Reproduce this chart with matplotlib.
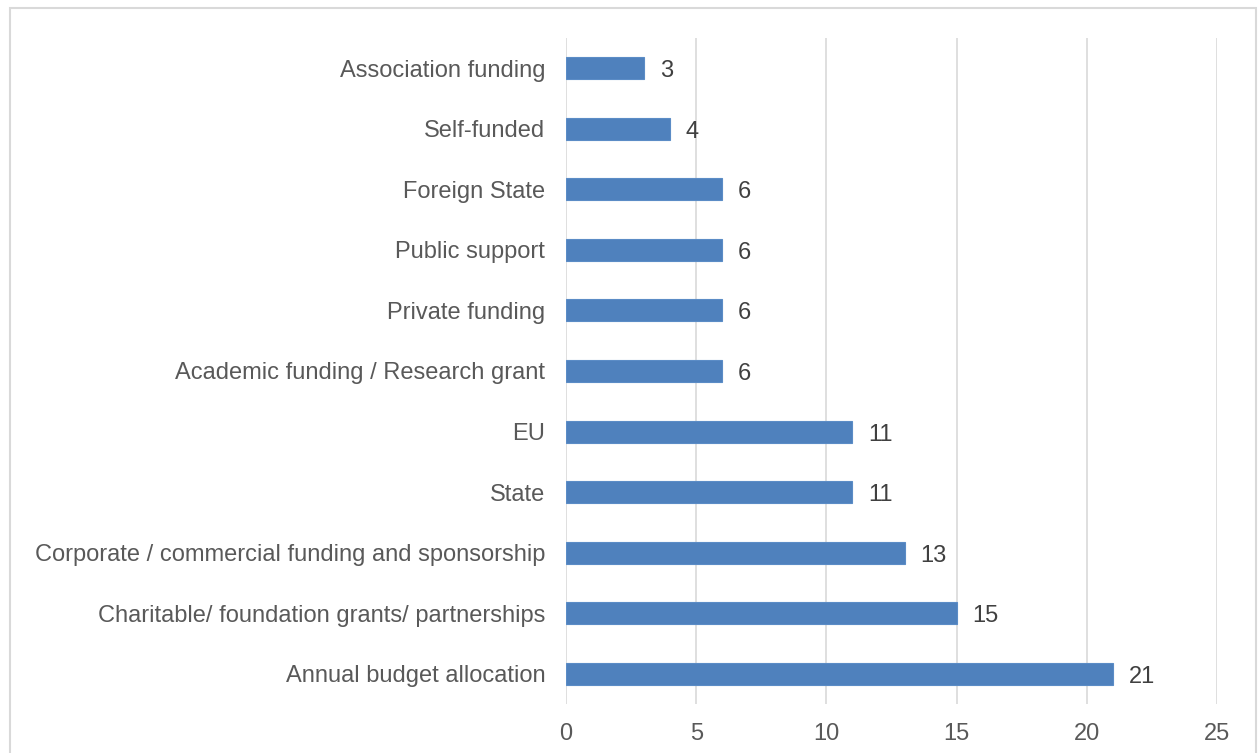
import matplotlib.pyplot as plt
from matplotlib.patches import Rectangle

plt.rcParams['font.family'] = ['Liberation Sans', 'DejaVu Sans']

sources = ["Association funding", "Self-funded", "Foreign State", "Public support",
           "Private funding", "Academic funding / Research grant", "EU", "State",
           "Corporate / commercial funding and sponsorship",
           "Charitable/ foundation grants/ partnerships", "Annual budget allocation"]
counts = [3, 4, 6, 6, 6, 6, 11, 11, 13, 15, 21]

fig = plt.figure(figsize=(12.6, 7.53), dpi=100)
ax = fig.add_axes([566 / 1260, 1 - 704 / 753, (1217 - 566) / 1260, (704 - 38) / 753])

# outer chart frame
fig.patches.append(Rectangle((10 / 1260, -0.05), 1246 / 1260, 1.05 - 8 / 753,
                             transform=fig.transFigure, fill=False,
                             edgecolor="#d9d9d9", linewidth=1.5))

ypos = list(range(len(sources)))
ax.barh(ypos, counts, height=0.364, color="#4f81bd", edgecolor="#5b8cc6",
        linewidth=0.8, zorder=3)
for y, v in zip(ypos, counts):
    ax.text(v + 0.6, y + 0.05, str(v), va="center", ha="left", fontsize=17,
            color="#404040")

ax.set_xlim(0, 25)
ax.set_ylim(len(sources) - 0.5, -0.5)
ax.set_xticks(range(0, 26, 5))
ax.set_yticks(ypos)
ax.set_yticklabels(sources)
ax.grid(axis="x", color="#d9d9d9", linewidth=1.2, zorder=0)
for s in ax.spines.values():
    s.set_visible(False)
ax.tick_params(axis="both", length=0, labelsize=17, labelcolor="#595959")
ax.tick_params(axis="y", pad=15)
ax.tick_params(axis="x", pad=14)

fig.savefig("out.png", dpi=100)
